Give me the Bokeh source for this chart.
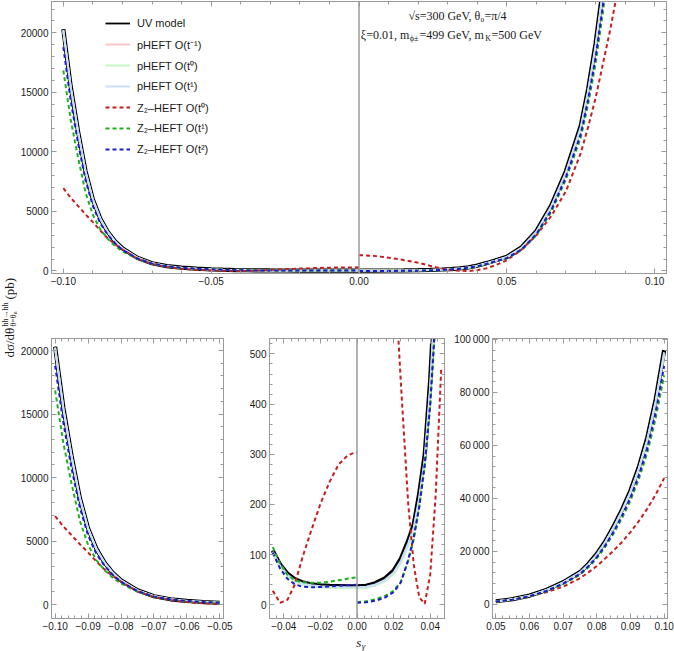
import numpy as np
from bokeh.plotting import figure
from bokeh.models import (Range1d, LinearAxis, FixedTicker, Span, Label, Legend, LegendItem)
from bokeh.layouts import column, row
from bokeh.embed import file_html
from bokeh.resources import INLINE

# ---------------- data ----------------
x_neg = [-0.100, -0.0975, -0.095, -0.0925, -0.090, -0.0875, -0.085, -0.0825, -0.080,
         -0.075, -0.070, -0.065, -0.060, -0.055, -0.050, -0.046, -0.042, -0.038, -0.034,
         -0.030, -0.025, -0.020, -0.015, -0.010, -0.005, 0.000]
x_pos = [0.000, 0.005, 0.010, 0.015, 0.020, 0.024, 0.028, 0.031, 0.034, 0.037, 0.040,
         0.043, 0.046, 0.050, 0.055, 0.060, 0.065, 0.070, 0.075, 0.0775, 0.080, 0.0825,
         0.085, 0.0875, 0.090, 0.0925, 0.095, 0.0975, 0.100]

uv_neg = [20300, 15500, 11700, 8400, 6000, 4400, 3300, 2500, 1900, 1120, 650, 410, 280,
          195, 140, 108, 80, 62, 51, 45, 41, 39, 38, 37.5, 37, 37]
uv_pos = [37, 38, 43, 52, 68, 92, 128, 160, 222, 300, 450, 660, 880, 1200, 2000, 3350,
          5500, 8400, 12200, 15300, 19100, 23800, 29500, 35800, 43000, 52000, 63000,
          77500, 96000]

ph_m1_neg = [20200, 15420, 11640, 8360, 5970, 4380, 3285, 2490, 1890, 1112, 645, 406, 276,
             191, 136, 104, 76, 58, 47, 41, 37.5, 35.5, 34.5, 34, 33.5, 33.5]
ph_m1_pos = [33.5, 34.5, 39, 47, 62, 85, 119, 150, 209, 284, 428, 630, 845, 1160, 1940,
             3260, 5370, 8220, 11950, 15000, 18750, 23400, 29000, 35200, 42300, 51200,
             62000, 76300, 94500]
ph_0_neg = [20150, 15380, 11610, 8340, 5955, 4370, 3278, 2484, 1886, 1110, 643, 404, 275,
            190, 135, 103, 75, 57, 46.5, 40.5, 37, 35, 34, 33.5, 33, 33]
ph_0_pos = [33, 34, 38.5, 46.5, 61, 84, 118, 148, 207, 281, 425, 625, 840, 1150, 1930,
            3250, 5350, 8200, 11900, 14950, 18700, 23300, 28900, 35100, 42200, 51000,
            61800, 76100, 94200]
ph_1_neg = [20250, 15460, 11670, 8380, 5985, 4390, 3290, 2495, 1895, 1116, 647, 408, 278,
            193, 138, 106, 78, 60, 49, 43, 39, 37, 36, 35.5, 35, 35]
ph_1_pos = [35, 36, 40.5, 49, 64.5, 88, 123, 154, 214, 291, 438, 645, 862, 1180, 1970,
            3300, 5430, 8300, 12080, 15150, 18900, 23550, 29200, 35450, 42600, 51500,
            62400, 76800, 95200]

z0_neg = [6950, 6150, 5450, 4750, 4100, 3400, 2750, 2250, 1800, 1030, 590, 350, 190, 100,
          55, 28, 4, 10, 40, 92, 148, 201, 245, 280, 298, 305]
z0_pos = [1330, 1270, 1120, 930, 700, 440, 200, 80, 15, 2, 60, 220, 470, 900, 1800, 3000,
          4600, 6700, 9900, 12100, 14500, 17400, 20300, 23600, 27300, 31500, 36200, 41500,
          47700]
z1_neg = [16850, 12700, 9500, 6600, 4700, 3500, 2700, 2100, 1650, 1020, 600, 385, 265, 185,
          150, 115, 82, 60, 49, 45, 44, 44, 46, 49, 52, 55]
z1_pos = [5, 7, 11, 17, 28, 46, 88, 130, 195, 275, 395, 570, 790, 1050, 1750, 3000, 4950,
          7700, 11200, 14000, 17400, 21700, 26800, 32600, 39200, 47400, 57300, 70300,
          86500]
z2_neg = [18800, 14300, 10700, 7650, 5450, 4000, 3050, 2330, 1780, 1060, 620, 395, 272,
          188, 135, 104, 72, 52, 41, 36, 35, 35.5, 36.5, 38, 39, 40]
z2_pos = [4, 5, 8, 14, 25, 45, 90, 135, 195, 280, 400, 580, 800, 1080, 1800, 3100, 5100,
          7900, 11500, 14400, 17900, 22300, 27500, 33500, 40300, 48700, 59000, 72500,
          90000]

legend_labels = ["UV model", "pHEFT O(t\u207b\u00b9)", "pHEFT O(t\u2070)", "pHEFT O(t\u00b9)",
                 "Z\u2082\u2013HEFT O(t\u2070)", "Z\u2082\u2013HEFT O(t\u00b9)", "Z\u2082\u2013HEFT O(t\u00b2)"]

top_xticks = [-0.1, -0.05, 0.0, 0.05, 0.1]
top_xlabels = ["\u22120.10", "\u22120.05", "0.00", "0.05", "0.10"]
top_yticks = [0, 5000, 10000, 15000, 20000]
top_ylabels = ["0", "5000", "10000", "15000", "20000"]
bl_xticks = [-0.10, -0.09, -0.08, -0.07, -0.06, -0.05]
bl_xlabels = ["\u22120.10", "\u22120.09", "\u22120.08", "\u22120.07", "\u22120.06", "\u22120.05"]
bm_xticks = [-0.04, -0.02, 0.0, 0.02, 0.04]
bm_xlabels = ["\u22120.04", "\u22120.02", "0.00", "0.02", "0.04"]
bm_yticks = [0, 100, 200, 300, 400, 500]
bm_ylabels = ["0", "100", "200", "300", "400", "500"]
br_xticks = [0.05, 0.06, 0.07, 0.08, 0.09, 0.10]
br_xlabels = ["0.05", "0.06", "0.07", "0.08", "0.09", "0.10"]
br_yticks = [0, 20000, 40000, 60000, 80000, 100000]
br_ylabels = ["0", "20\u2009000", "40\u2009000", "60\u2009000", "80\u2009000", "100\u2009000"]

# ---------------- styles ----------------
FRAME = "#9a9a9a"
TXT = "#1a1a1a"
PINK, LGREEN, LBLUE = "#ffc4c4", "#c4f7c4", "#c8defa"
RED, GREEN, BLUE = "#c81e1e", "#1fb01f", "#1c1cc8"
SANS = "Liberation Sans"
SERIF = "Liberation Serif"


def minor(a, b, step):
    n = int(round((b - a) / step))
    return [round(a + i * step, 6) for i in range(n + 1)]


def style_axis(ax, ticks, minors, labels=None):
    ax.ticker = FixedTicker(ticks=ticks, minor_ticks=minors)
    ax.axis_line_color = FRAME
    ax.major_tick_line_color = FRAME
    ax.minor_tick_line_color = FRAME
    ax.major_tick_in = 5
    ax.major_tick_out = 0
    ax.minor_tick_in = 3
    ax.minor_tick_out = 0
    if labels is None:
        ax.major_label_text_font_size = "0px"
        ax.major_label_text_color = None
        ax.major_label_standoff = 0
    else:
        ax.major_label_overrides = {t: l for t, l in zip(ticks, labels)}
        ax.major_label_text_font = SANS
        ax.major_label_text_font_size = "10px"
        ax.major_label_text_color = TXT
        ax.major_label_standoff = 3


def make_fig(w, h, xr, yr, bl, br, bt, bb, xt, xm, xl, yt, ym, yl):
    p = figure(width=w, height=h, x_range=Range1d(*xr), y_range=Range1d(*yr),
               output_backend="svg", toolbar_location=None,
               min_border_left=bl, min_border_right=br, min_border_top=bt,
               min_border_bottom=bb)
    p.grid.visible = False
    p.outline_line_color = FRAME
    p.background_fill_color = "white"
    p.border_fill_color = "white"
    style_axis(p.xaxis[0], xt, xm, xl)
    style_axis(p.yaxis[0], yt, ym, yl)
    ax_t = LinearAxis()
    style_axis(ax_t, xt, xm, None)
    p.add_layout(ax_t, "above")
    ax_r = LinearAxis()
    style_axis(ax_r, yt, ym, None)
    p.add_layout(ax_r, "right")
    return p


def blank_fig(w, h, xr, yr):
    p = figure(width=w, height=h, x_range=Range1d(*xr), y_range=Range1d(*yr),
               output_backend="svg", toolbar_location=None, x_axis_location=None,
               y_axis_location=None, min_border_left=0, min_border_right=0,
               min_border_top=0, min_border_bottom=0)
    p.grid.visible = False
    p.outline_line_color = None
    p.background_fill_color = "white"
    p.border_fill_color = "white"
    return p


def clip_dom(xs, ys, lo, hi):
    pts = [(a, b) for a, b in zip(xs, ys) if lo - 1e-9 <= a <= hi + 1e-9]
    return [q[0] for q in pts], [q[1] for q in pts]


def draw(p, lo, hi):
    xa = x_neg + x_pos[1:]
    out = {}
    xx, yy = clip_dom(xa, uv_neg + uv_pos[1:], lo, hi)
    p.line(xx, yy, line_color="black", line_width=4.2)
    out["uv"] = p.line(xx, yy, line_color="black", line_width=1.8)
    for key, yn, yp, col in [("m1", ph_m1_neg, ph_m1_pos, PINK),
                             ("p0", ph_0_neg, ph_0_pos, LGREEN),
                             ("p1", ph_1_neg, ph_1_pos, LBLUE)]:
        xx, yy = clip_dom(xa, yn + yp[1:], lo, hi)
        out[key] = p.line(xx, yy, line_color=col, line_width=2.0)
    for key, yn, yp, col in [("z0", z0_neg, z0_pos, RED),
                             ("z1", z1_neg, z1_pos, GREEN),
                             ("z2", z2_neg, z2_pos, BLUE)]:
        rs = []
        for xs, ys in [(x_neg, yn), (x_pos, yp)]:
            xx, yy = clip_dom(xs, ys, lo, hi)
            if xx:
                rs.append(p.line(xx, yy, line_color=col, line_width=2, line_dash="4 3"))
        out[key] = rs
    return out


# ---------------- y-axis title column (data units = page pixels) ----------------
ylab = blank_fig(17, 651, (0, 17), (651, 0))
ylab.add_layout(Label(x=9, y=357, text="d\u03c3/d\u03b8", text_font=SERIF,
                      text_font_size="13px", text_color=TXT, angle=np.pi / 2,
                      text_align="left", text_baseline="middle"))
ylab.add_layout(Label(x=4.5, y=326, text="hh\u2192hh", text_font=SERIF,
                      text_font_size="8px", text_color=TXT, angle=np.pi / 2,
                      text_align="left", text_baseline="middle"))
ylab.add_layout(Label(x=12.5, y=326, text="\u03b8=\u03b8\u2080", text_font=SERIF,
                      text_font_size="8px", text_color=TXT, angle=np.pi / 2,
                      text_align="left", text_baseline="middle"))
ylab.add_layout(Label(x=9, y=299, text="(pb)", text_font=SERIF,
                      text_font_size="13px", text_color=TXT, angle=np.pi / 2,
                      text_align="left", text_baseline="middle"))

# ---------------- top panel (frame: x 48..666, y 1..273) ----------------
top = make_fig(657, 300, (-0.104, 0.104), (-210, 22630), 31, 8, 1, 27,
               top_xticks, minor(-0.1, 0.1, 0.01), top_xlabels,
               top_yticks, minor(0, 22000, 1000), top_ylabels)
top.add_layout(Span(location=0, dimension="height", line_color=FRAME, line_width=1.5))
rt = draw(top, -0.1, 0.1)

legend = Legend(items=[
    LegendItem(label=legend_labels[0], renderers=[rt["uv"]]),
    LegendItem(label=legend_labels[1], renderers=[rt["m1"]]),
    LegendItem(label=legend_labels[2], renderers=[rt["p0"]]),
    LegendItem(label=legend_labels[3], renderers=[rt["p1"]]),
    LegendItem(label=legend_labels[4], renderers=[rt["z0"][0]]),
    LegendItem(label=legend_labels[5], renderers=[rt["z1"][0]]),
    LegendItem(label=legend_labels[6], renderers=[rt["z2"][0]]),
], location=(54, 114))
legend.glyph_width = 25
legend.glyph_height = 20
legend.label_height = 20
legend.spacing = 1
legend.padding = 0
legend.margin = 0
legend.label_standoff = 7
legend.label_text_font = SANS
legend.label_text_font_size = "11px"
legend.label_text_color = TXT
legend.background_fill_alpha = 0
legend.border_line_alpha = 0
top.add_layout(legend)

# annotation text (anchored at the frame's top-left corner, offsets in pixels)
X0, Y0 = -0.104, 22630
top.add_layout(Label(x=X0, y=Y0, x_offset=406, y_offset=-14,
                     text="\u221As=300 GeV, \u03b8\u2080=\u03c0/4", text_font=SERIF,
                     text_font_size="12px", text_color=TXT, text_align="center",
                     text_baseline="middle"))
pieces = [("\u03be=0.01, m", 12, 0, 49.0), ("\u03d5\u00b1", 8, -3.5, 9.7),
          ("=499 GeV, m", 12, 0, 65.8), ("K", 8, -3.5, 6.3), ("=500 GeV", 12, 0, 50.4)]
dx = 309.3
for txt, fs, dy, w in pieces:
    top.add_layout(Label(x=X0, y=Y0, x_offset=dx, y_offset=-33.3 + dy, text=txt,
                         text_font=SERIF, text_font_size=f"{fs}px", text_color=TXT,
                         text_align="left", text_baseline="middle"))
    dx += w

# ---------------- bottom row (frames: y 338..618) ----------------
bl = make_fig(229, 334, (-0.1011, -0.0489), (-1102, 20945), 31, 23, 38, 16,
              bl_xticks, minor(-0.1, -0.05, 0.002), bl_xlabels,
              top_yticks, minor(0, 20000, 1000), top_ylabels)
draw(bl, -0.1, -0.05)

bm = make_fig(202, 334, (-0.0478, 0.0478), (-27.3, 530.8), 23, 4, 38, 16,
              bm_xticks, minor(-0.044, 0.044, 0.004), bm_xlabels,
              bm_yticks, minor(0, 520, 20), bm_ylabels)
bm.add_layout(Span(location=0, dimension="height", line_color=FRAME, line_width=1.5))
draw(bm, -0.046, 0.046)

br = make_fig(226, 334, (0.0490, 0.1010), (-5300, 100400), 44, 7, 38, 16,
              br_xticks, minor(0.05, 0.1, 0.002), br_xlabels,
              br_yticks, minor(0, 100000, 4000), br_ylabels)
draw(br, 0.05, 0.1)

# x-axis title strip under the bottom row (data units = page pixels)
strip = blank_fig(657, 17, (17, 674), (651, 634))
strip.add_layout(Label(x=342.5, y=641.5, text="s", text_font=SERIF, text_font_size="13px",
                       text_font_style="italic", text_color=TXT, text_align="left",
                       text_baseline="middle"))
strip.add_layout(Label(x=348.5, y=645, text="\u03b3", text_font=SERIF, text_font_size="9px",
                       text_font_style="italic", text_color=TXT, text_align="left",
                       text_baseline="middle"))

layout = row(ylab, column(top, row(bl, bm, br), strip))
open("out.html", "w").write(file_html(layout, INLINE))
